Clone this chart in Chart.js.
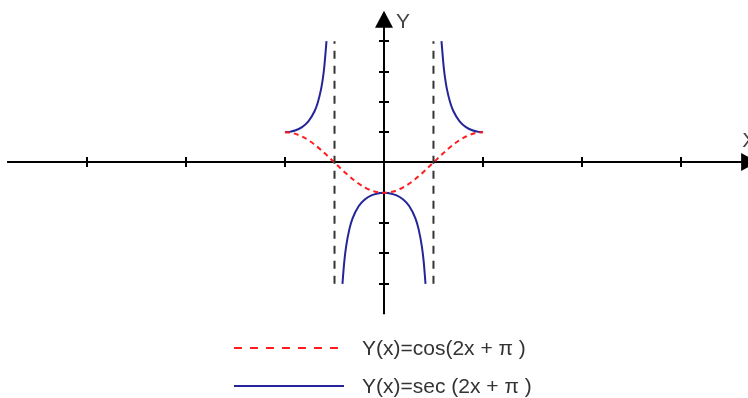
<!DOCTYPE html>
<html>
<head>
<meta charset="utf-8">
<title>cos(2x + π) and sec(2x + π)</title>
<script src="https://cdn.jsdelivr.net/npm/chart.js@4"></script>
<style>
  html, body { margin: 0; padding: 0; background: #fff; }
  canvas { display: block; }
</style>
</head>
<body>
<canvas id="graph" width="748" height="398"></canvas>
<script>
// x is in radians, y in plain units

// Y(x) = cos(2x + π) over [-π/2, π/2]
const cosX = [-1.571, -1.45, -1.3, -1.15, -1.0, -0.785, -0.6, -0.45, -0.3, -0.15, 0, 0.15, 0.3, 0.45, 0.6, 0.785, 1.0, 1.15, 1.3, 1.45, 1.571];
const cosY = [1.000, 0.971, 0.857, 0.666, 0.416, 0, -0.362, -0.622, -0.825, -0.955, -1.000, -0.955, -0.825, -0.622, -0.362, 0, 0.416, 0.666, 0.857, 0.971, 1.000];

// Y(x) = sec(2x + π), three branches cut off at |y| = 4
const secLeftX = [-1.571, -1.5, -1.4, -1.3, -1.2, -1.1, -1.05, -1.0, -0.975, -0.95, -0.912];
const secLeftY = [1.000, 1.010, 1.062, 1.167, 1.357, 1.698, 1.981, 2.403, 2.701, 3.093, 4.000];
const secMidX = [-0.659, -0.63, -0.6, -0.55, -0.5, -0.4, -0.3, -0.2, -0.1, 0, 0.1, 0.2, 0.3, 0.4, 0.5, 0.55, 0.6, 0.63, 0.659];
const secMidY = [-4.000, -3.270, -2.760, -2.205, -1.851, -1.435, -1.212, -1.086, -1.020, -1.000, -1.020, -1.086, -1.212, -1.435, -1.851, -2.205, -2.760, -3.270, -4.000];
const secRightX = [0.912, 0.95, 0.975, 1.0, 1.05, 1.1, 1.2, 1.3, 1.4, 1.5, 1.571];
const secRightY = [4.000, 3.093, 2.701, 2.403, 1.981, 1.698, 1.357, 1.167, 1.062, 1.010, 1.000];

// vertical asymptotes at x = ±π/4
const asymptoteX = [-0.785, 0.785];
const asymptoteY = [-4, 4];

// ticks: x every π/2 (in multiples of π/2), y every unit
const xTicks = [-3, -2, -1, 1, 2, 3];
const yTicks = [-4, -3, -2, -1, 1, 2, 3, 4];

// extent of the drawn axes
const xAxisRange = [-5.98, 5.92];
const yAxisRange = [-5, 5];

const seriesLabels = ['Y(x)=cos(2x + π )', 'Y(x)=sec (2x + π )'];

const RED = '#ff1c1c';
const BLUE = '#25259a';
const FONT = '21px "Liberation Sans", Arial, sans-serif';

function pts(xs, ys) {
    return xs.map((v, i) => ({ x: v, y: ys[i] }));
}

function secBranch(xs, ys) {
    return {
        data: pts(xs, ys),
        borderColor: BLUE,
        borderWidth: 2,
        cubicInterpolationMode: 'monotone'
    };
}

// axes with arrows and ticks, drawn under the curves
const axesPlugin = {
    id: 'axes',
    beforeDatasetsDraw(chart) {
        const { ctx, scales: { x, y } } = chart;
        const x0 = Math.round(x.getPixelForValue(0));
        const y0 = Math.round(y.getPixelForValue(0));
        const left = x.getPixelForValue(xAxisRange[0]);
        const right = x.getPixelForValue(xAxisRange[1]);
        const top = y.getPixelForValue(yAxisRange[1]);
        const bottom = y.getPixelForValue(yAxisRange[0]);

        ctx.save();
        ctx.strokeStyle = '#000';
        ctx.fillStyle = '#000';
        ctx.lineWidth = 2;

        ctx.beginPath();
        ctx.moveTo(left, y0);
        ctx.lineTo(right - 10, y0);
        ctx.moveTo(x0, bottom);
        ctx.lineTo(x0, top + 10);
        ctx.stroke();

        // arrow heads
        ctx.beginPath();
        ctx.moveTo(right, y0);
        ctx.lineTo(right - 16, y0 - 9);
        ctx.lineTo(right - 16, y0 + 9);
        ctx.closePath();
        ctx.fill();
        ctx.beginPath();
        ctx.moveTo(x0, top);
        ctx.lineTo(x0 - 9, top + 17);
        ctx.lineTo(x0 + 9, top + 17);
        ctx.closePath();
        ctx.fill();

        ctx.beginPath();
        xTicks.forEach(t => {
            const px = Math.round(x.getPixelForValue(t * Math.PI / 2));
            ctx.moveTo(px, y0 - 5);
            ctx.lineTo(px, y0 + 5);
        });
        yTicks.forEach(t => {
            const py = Math.round(y.getPixelForValue(t));
            ctx.moveTo(x0 - 5, py);
            ctx.lineTo(x0 + 5, py);
        });
        ctx.stroke();

        // axis names
        ctx.fillStyle = '#444';
        ctx.font = FONT;
        ctx.textBaseline = 'alphabetic';
        ctx.textAlign = 'left';
        ctx.fillText('Y', x0 + 12, top + 17);
        ctx.fillText('X', right - 15, y0 - 15);
        ctx.restore();
    },
    afterDraw(chart) {
        const { ctx } = chart;
        const rows = [
            { label: seriesLabels[0], color: RED, dash: [8, 8], y: 348, end: 339 },
            { label: seriesLabels[1], color: BLUE, dash: [], y: 386, end: 344 }
        ];
        ctx.save();
        ctx.font = FONT;
        ctx.textBaseline = 'middle';
        ctx.textAlign = 'left';
        rows.forEach(r => {
            ctx.beginPath();
            ctx.setLineDash(r.dash);
            ctx.strokeStyle = r.color;
            ctx.lineWidth = 2;
            ctx.moveTo(234, r.y);
            ctx.lineTo(r.end, r.y);
            ctx.stroke();
            ctx.fillStyle = '#333';
            ctx.fillText(r.label, 362, r.y + 1);
        });
        ctx.restore();
    }
};

new Chart(document.getElementById('graph'), {
    type: 'scatter',
    data: {
        datasets: [
            {
                data: pts(asymptoteX.slice(0, 1).concat(asymptoteX.slice(0, 1)), asymptoteY),
                borderColor: '#333',
                borderWidth: 2,
                borderDash: [8, 7]
            },
            {
                data: pts(asymptoteX.slice(1).concat(asymptoteX.slice(1)), asymptoteY),
                borderColor: '#333',
                borderWidth: 2,
                borderDash: [8, 7]
            },
            {
                label: seriesLabels[0],
                data: pts(cosX, cosY),
                borderColor: RED,
                borderWidth: 2,
                borderDash: [5, 4],
                cubicInterpolationMode: 'monotone'
            },
            secBranch(secLeftX, secLeftY),
            secBranch(secMidX, secMidY),
            secBranch(secRightX, secRightY)
        ]
    },
    options: {
        responsive: false,
        animation: false,
        showLine: true,
        elements: { point: { radius: 0, hoverRadius: 0 } },
        layout: { padding: 0 },
        plugins: {
            legend: { display: false },
            tooltip: { enabled: false }
        },
        scales: {
            x: { type: 'linear', min: -6.092, max: 5.775, display: false },
            y: { type: 'linear', min: -7.765, max: 5.358, display: false }
        }
    },
    plugins: [axesPlugin]
});
</script>
</body>
</html>
